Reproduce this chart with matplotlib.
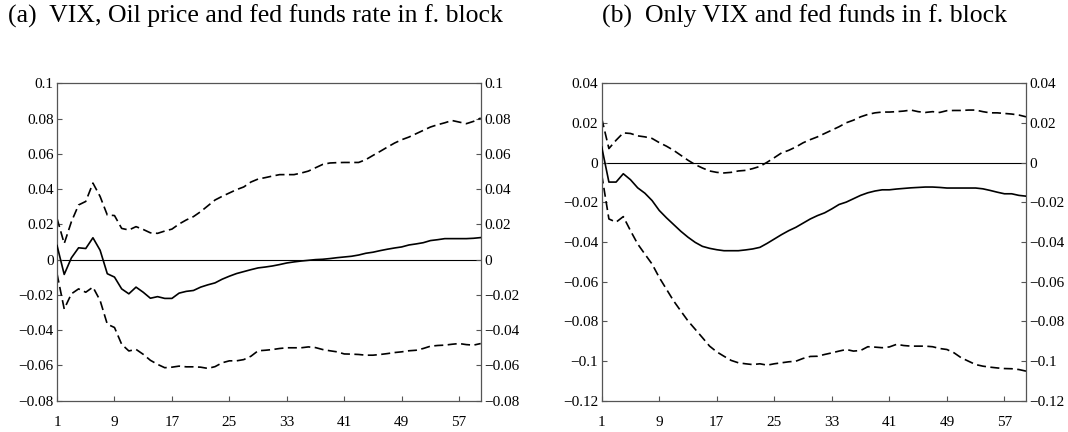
import matplotlib
matplotlib.use("Agg")
import matplotlib.pyplot as plt
from matplotlib.ticker import FixedLocator, FuncFormatter
import numpy as np

horizons = list(range(1, 61))

# Panel (a): VIX, Oil price and fed funds rate in f. block
a_median = [0.008, -0.0084, 0.001, 0.0067, 0.0063, 0.0124, 0.0053, -0.008, -0.0099, -0.0166,
            -0.0194, -0.0156, -0.0185, -0.0219, -0.021, -0.022, -0.022, -0.019, -0.018, -0.0175,
            -0.0156, -0.0143, -0.0132, -0.0111, -0.0094, -0.0079, -0.0068, -0.0057, -0.0047, -0.0042,
            -0.0036, -0.0028, -0.0019, -0.0013, -0.0008, -0.0004, 0.0, 0.0002, 0.0006, 0.0011,
            0.0015, 0.0019, 0.0026, 0.0036, 0.0042, 0.0051, 0.0059, 0.0066, 0.0072, 0.0083,
            0.0089, 0.0096, 0.0108, 0.0113, 0.0119, 0.0119, 0.0119, 0.0119, 0.0121, 0.0125]
a_upper = [0.0234, 0.0091, 0.0215, 0.031, 0.033, 0.0434, 0.0358, 0.0253, 0.025, 0.0177,
           0.0168, 0.0187, 0.0171, 0.0152, 0.0149, 0.0162, 0.0173, 0.0202, 0.0225, 0.0244,
           0.0272, 0.0305, 0.0338, 0.0359, 0.0378, 0.0397, 0.0412, 0.044, 0.0457, 0.0465,
           0.0474, 0.0482, 0.0482, 0.0482, 0.0491, 0.0502, 0.0521, 0.054, 0.0548, 0.055,
           0.0551, 0.0551, 0.0551, 0.0567, 0.0591, 0.0614, 0.0638, 0.0661, 0.068, 0.0695,
           0.0714, 0.0733, 0.0752, 0.0765, 0.0776, 0.0789, 0.078, 0.0771, 0.0784, 0.0803]
a_lower = [-0.008, -0.028, -0.0194, -0.0166, -0.0185, -0.0156, -0.0232, -0.0366, -0.0385, -0.048,
           -0.0518, -0.0509, -0.0537, -0.0571, -0.0594, -0.0613, -0.061, -0.0604, -0.0608, -0.0608,
           -0.061, -0.0617, -0.0607, -0.0585, -0.0574, -0.0574, -0.0567, -0.0548, -0.0517, -0.0514,
           -0.051, -0.0504, -0.05, -0.05, -0.05, -0.0495, -0.0499, -0.051, -0.0517, -0.0523,
           -0.0535, -0.0536, -0.0538, -0.0542, -0.0542, -0.0538, -0.0533, -0.0527, -0.0523, -0.0517,
           -0.0514, -0.0504, -0.0491, -0.0487, -0.0485, -0.048, -0.0476, -0.0482, -0.0485, -0.0476]

# Panel (b): Only VIX and fed funds in f. block
b_median = [0.0079, -0.0098, -0.0098, -0.0056, -0.0086, -0.0127, -0.0154, -0.0191, -0.0241, -0.0278,
            -0.0312, -0.0346, -0.0376, -0.0402, -0.0422, -0.0432, -0.0439, -0.0444, -0.0444, -0.0444,
            -0.044, -0.0435, -0.0427, -0.0407, -0.0385, -0.0363, -0.0343, -0.0326, -0.0305, -0.0284,
            -0.0267, -0.0253, -0.0233, -0.0211, -0.0199, -0.0182, -0.0165, -0.0152, -0.0143, -0.0137,
            -0.0137, -0.0133, -0.013, -0.0127, -0.0125, -0.0123, -0.0123, -0.0125, -0.0128, -0.0128,
            -0.0128, -0.0128, -0.0128, -0.0132, -0.014, -0.0149, -0.0157, -0.0157, -0.0165, -0.0169]
b_upper = [0.0223, 0.0071, 0.0113, 0.015, 0.0147, 0.0135, 0.013, 0.0122, 0.0101, 0.0083,
           0.0062, 0.0037, 0.0012, -0.001, -0.0027, -0.0042, -0.0049, -0.0052, -0.0049, -0.0042,
           -0.0039, -0.003, -0.0019, 0.0002, 0.0025, 0.0049, 0.0062, 0.0079, 0.01, 0.0116,
           0.013, 0.0147, 0.0164, 0.0181, 0.0201, 0.0214, 0.0231, 0.0243, 0.0251, 0.0255,
           0.0255, 0.0257, 0.026, 0.0265, 0.0257, 0.0253, 0.0257, 0.0253, 0.0262, 0.0263,
           0.0263, 0.0265, 0.0265, 0.0257, 0.0251, 0.0251, 0.0248, 0.0245, 0.024, 0.0231]
b_lower = [-0.006, -0.0284, -0.03, -0.0272, -0.0343, -0.041, -0.0461, -0.0511, -0.0579, -0.0638,
           -0.0697, -0.0748, -0.0798, -0.084, -0.0882, -0.0925, -0.0954, -0.0976, -0.0997, -0.1009,
           -0.1014, -0.1018, -0.1014, -0.1021, -0.1014, -0.1009, -0.1004, -0.1001, -0.0987, -0.0977,
           -0.0976, -0.0967, -0.0959, -0.095, -0.0942, -0.095, -0.0947, -0.0928, -0.093, -0.0933,
           -0.0929, -0.0916, -0.0922, -0.0925, -0.0925, -0.0925, -0.0928, -0.0937, -0.0942, -0.0959,
           -0.0984, -0.1001, -0.1018, -0.1026, -0.1031, -0.1035, -0.1038, -0.1039, -0.1043, -0.1051]

x_ticks = [1, 9, 17, 25, 33, 41, 49, 57]
a_yticks = [-0.08, -0.06, -0.04, -0.02, 0, 0.02, 0.04, 0.06, 0.08, 0.1]
b_yticks = [-0.12, -0.1, -0.08, -0.06, -0.04, -0.02, 0, 0.02, 0.04]

title_a = "(a)  VIX, Oil price and fed funds rate in f. block"
title_b = "(b)  Only VIX and fed funds in f. block"

plt.rcParams['font.family'] = ['Liberation Serif', 'DejaVu Serif']
plt.rcParams['lines.scale_dashes'] = False


def fmt(v, pos):
    v = round(v, 4)
    if v == 0:
        return "0"
    s = f"{v:g}"
    return s.replace("-", "\u2212")


fig = plt.figure(figsize=(10.68, 4.32), dpi=100)
ax_a = fig.add_axes([0.0534, 0.0725, 0.3967, 0.7347])
ax_b = fig.add_axes([0.5634, 0.0725, 0.3973, 0.7347])

spine_col = '#555555'
for ax, med, up, lo, yt in [(ax_a, a_median, a_upper, a_lower, a_yticks),
                            (ax_b, b_median, b_upper, b_lower, b_yticks)]:
    ax.axhline(0, color='black', lw=0.8, zorder=1)
    ax.plot(horizons, up, color='black', lw=1.2, dashes=(6.5, 3.2), zorder=2)
    ax.plot(horizons, lo, color='black', lw=1.2, dashes=(6.5, 3.2), zorder=2)
    ax.plot(horizons, med, color='black', lw=1.2, zorder=3)
    ax.set_xlim(1, 60)
    ax.set_ylim(yt[0], yt[-1])
    ax.xaxis.set_major_locator(FixedLocator(x_ticks))
    ax.yaxis.set_major_locator(FixedLocator(yt))
    ax.yaxis.set_major_formatter(FuncFormatter(fmt))
    ax.tick_params(axis='both', direction='in', length=3.5, width=0.8, color=spine_col,
                   labelsize=11)
    ax.tick_params(axis='y', right=True, labelright=True, pad=2.5)
    ax.tick_params(axis='x', top=False, pad=11)
    for sp in ax.spines.values():
        sp.set_color(spine_col)
        sp.set_linewidth(0.9)

fig.text(8 / 1068, 1 - 16 / 432, title_a, fontsize=18.5, ha='left', va='center')
fig.text(805 / 1068, 1 - 16 / 432, title_b, fontsize=18.5, ha='center', va='center')

fig.savefig("out.png", dpi=100)
